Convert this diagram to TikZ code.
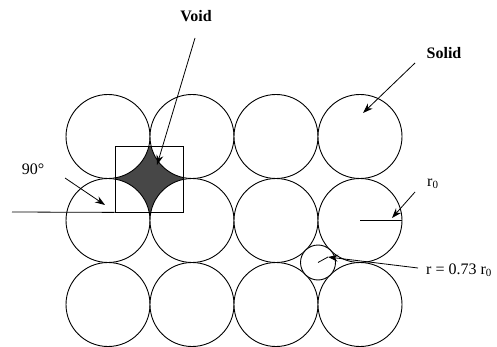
\documentclass[tikz,border=0pt]{standalone}
\usepackage{fontspec}
\setmainfont{Liberation Serif}
\usetikzlibrary{arrows.meta}
\newcommand{\subz}{\raisebox{-2.5pt}{\fontsize{11}{11}\selectfont 0}}
\begin{document}
\begin{tikzpicture}[x=1pt,y=-1pt,
  ball/.style={circle,draw,fill=white,line width=0.9pt,inner sep=0pt,outer sep=0pt,minimum size=84pt},
  small/.style={circle,draw,fill=white,line width=0.9pt,inner sep=0pt,outer sep=0pt,minimum size=35pt},
  lbl/.style={inner sep=0pt,font=\fontsize{16}{18}\selectfont},
  pointer/.style={line width=0.8pt,-{Stealth[length=10pt,width=7pt]}},
  thin/.style={line width=0.8pt}]
\useasboundingbox (0,0) rectangle (497,347);
% void fill clipped by square
\begin{scope}
  \clip (115,146) rectangle (183,212);
  \fill[black!72] (115,146) rectangle (183,212);
\end{scope}
% circles
\foreach \i/\x in {1/108,2/192,3/276,4/360}{
  \foreach \j/\y in {1/136.5,2/220.5,3/304.5}{
    \node[ball] (c-\j-\i) at (\x,\y) {};
  }
}
\node[small] (s) at (318,262.5) {};
% square and reference line
\node[draw,thin,inner sep=0pt,minimum width=68pt,minimum height=66pt] (sq) at (149,179) {};
\coordinate (lft) at (12,212);
\draw[thin] (lft) -- (sq.south west);
% labels
\node[lbl,font=\fontsize{16}{18}\selectfont\bfseries] (void) at (196,16) {Void};
\node[lbl,font=\fontsize{16}{18}\selectfont\bfseries] (solid) at (444,53) {Solid};
\node[lbl] (deg) at (33,169) {90°};
\node[lbl,anchor=west] (r0) at (427,184) {r\subz};
\node[lbl,anchor=west] (rr) at (426,270) {r = 0.73 r\subz};
% arrows
\coordinate (va) at (195,38);
\coordinate (vb) at (157,165);
\draw[pointer] (va) -- (vb);
\coordinate (sa) at (415,63);
\coordinate (sb) at (363,113);
\draw[pointer] (sa) -- (sb);
\coordinate (da) at (65,178);
\coordinate (db) at (105,205);
\draw[pointer] (da) -- (db);
\draw[thin] (c-2-4.center) -- (c-2-4.east);
\coordinate (ra) at (415,192);
\coordinate (rb) at (392,218);
\draw[pointer] (ra) -- (rb);
\coordinate (ta) at (418,268);
\coordinate (tb) at (328,257);
\draw[pointer] (ta) -- (tb);
\draw[thin] (s.center) -- (tb);
\end{tikzpicture}
\end{document}
